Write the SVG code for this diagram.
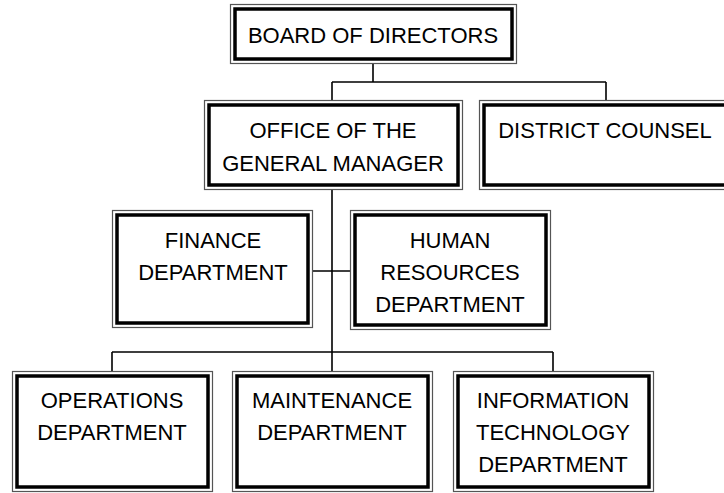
<svg xmlns="http://www.w3.org/2000/svg" width="724" height="493" viewBox="0 0 724 493">
<style>
.o{fill:#fff;stroke:#555;stroke-width:1.2}
.i{fill:none;stroke:#000;stroke-width:3.5}
.t{font-family:"Comic Sans MS","Liberation Sans",sans-serif;font-size:22px;fill:#000;text-anchor:middle}
.c{stroke:#000;stroke-width:1.6;fill:none}
</style>
<rect width="724" height="493" fill="#fff"/>
<g id="connectors">
<path class="c" d="M373,64V82M332,82H606M332,82V100M606,82V100M332,190V371M313,271H350M112,352H553M112,352V371M553,352V371"/>
</g>
<g id="board">
<rect class="o" x="230.5" y="4.5" width="286" height="59"/>
<rect class="i" x="235" y="9" width="277" height="50"/>
<text class="t" x="373" y="43">BOARD OF DIRECTORS</text>
</g>
<g id="gm">
<rect class="o" x="204.5" y="100.5" width="258" height="89"/>
<rect class="i" x="209" y="105" width="249" height="80"/>
<text class="t" x="333" y="138">OFFICE OF THE</text>
<text class="t" x="333" y="171">GENERAL MANAGER</text>
</g>
<g id="counsel">
<rect class="o" x="479.5" y="100.5" width="260" height="89"/>
<rect class="i" x="484" y="105" width="251" height="80"/>
<text class="t" x="605" y="138">DISTRICT COUNSEL</text>
</g>
<g id="finance">
<rect class="o" x="112.5" y="210.5" width="200" height="117"/>
<rect class="i" x="117" y="215" width="191" height="108"/>
<text class="t" x="213" y="248">FINANCE</text>
<text class="t" x="213" y="280">DEPARTMENT</text>
</g>
<g id="hr">
<rect class="o" x="350.5" y="210.5" width="200" height="119"/>
<rect class="i" x="355" y="215" width="191" height="110"/>
<text class="t" x="450" y="248">HUMAN</text>
<text class="t" x="450" y="280">RESOURCES</text>
<text class="t" x="450" y="312">DEPARTMENT</text>
</g>
<g id="operations">
<rect class="o" x="12.5" y="371.5" width="200" height="120"/>
<rect class="i" x="17" y="376" width="191" height="111"/>
<text class="t" x="112" y="408">OPERATIONS</text>
<text class="t" x="112" y="440">DEPARTMENT</text>
</g>
<g id="maintenance">
<rect class="o" x="232.5" y="371.5" width="200" height="120"/>
<rect class="i" x="237" y="376" width="191" height="111"/>
<text class="t" x="332" y="408">MAINTENANCE</text>
<text class="t" x="332" y="440">DEPARTMENT</text>
</g>
<g id="it">
<rect class="o" x="453.5" y="371.5" width="200" height="120"/>
<rect class="i" x="458" y="376" width="191" height="111"/>
<text class="t" x="553" y="408">INFORMATION</text>
<text class="t" x="553" y="440">TECHNOLOGY</text>
<text class="t" x="553" y="472">DEPARTMENT</text>
</g>
</svg>
